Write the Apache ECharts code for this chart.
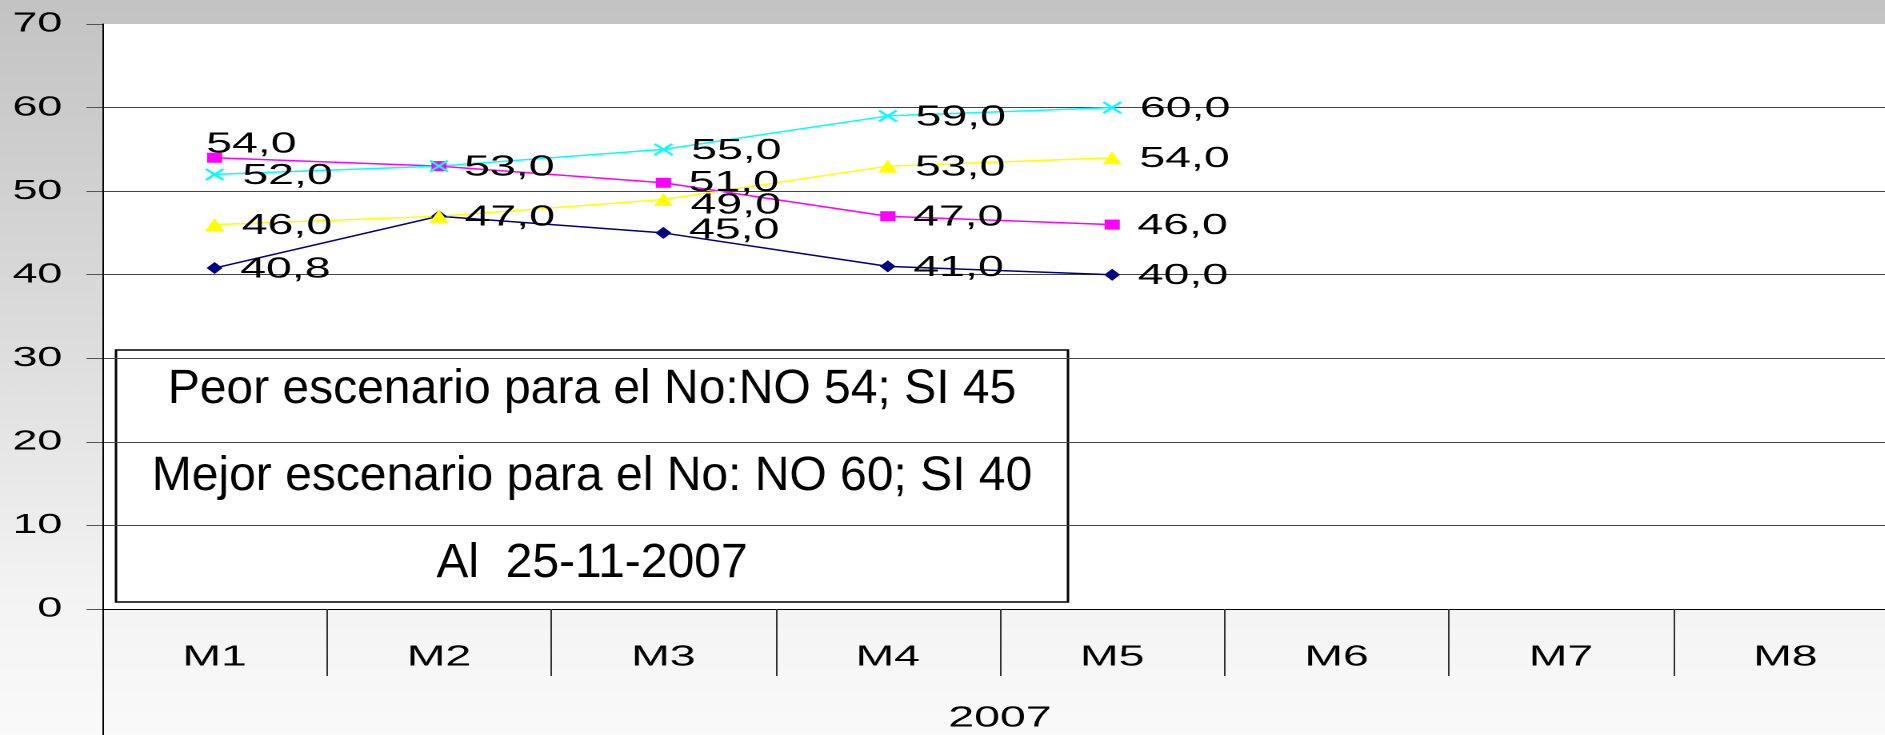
<!DOCTYPE html>
<html>
<head>
<meta charset="utf-8">
<title>Escenarios 2007</title>
<script src="https://cdn.jsdelivr.net/npm/echarts@6/dist/echarts.min.js"></script>
<style>
  html, body { margin: 0; padding: 0; overflow: hidden; background: #fafafa; }
  /* the original picture is stretched sideways, so the chart is drawn narrow and widened */
  #main { width: 1200px; height: 735px; transform: scaleX(1.6); transform-origin: 0 0; }
</style>
</head>
<body>
<div id="main"></div>
<script>
// datos
var categorias = ['M1', 'M2', 'M3', 'M4', 'M5', 'M6', 'M7', 'M8'];
var anio = ['2007'];
var serieAzul = [40.8, 47, 45, 41, 40];      // rombo azul marino
var serieMagenta = [54, 53, 51, 47, 46];     // cuadrado magenta
var serieAmarilla = [46, 47, 49, 53, 54];    // triangulo amarillo
var serieCian = [52, 53, 55, 59, 60];        // aspa cian
var notas = [
  'Peor escenario para el No:NO 54; SI 45',
  'Mejor escenario para el No: NO 60; SI 40',
  'Al  25-11-2007'
];

var fuente = 'Liberation Sans, Arial, sans-serif';

function etiqueta(p) {
  return p.value.toFixed(1).replace('.', ',');
}

// ajustes de etiquetas: indice -> label extra (null = ocultar, ya la tapa otra igual)
function conAjustes(datos, ajustes) {
  return datos.map(function (v, i) {
    if (ajustes[i] === undefined) return v;
    if (ajustes[i] === null) return { value: v, label: { show: false } };
    return { value: v, label: ajustes[i] };
  });
}

function serie(nombre, datos, color, simbolo, tam) {
  return {
    name: nombre,
    type: 'line',
    data: datos,
    symbol: simbolo,
    symbolSize: tam,
    lineStyle: { color: color, width: 1.5 },
    itemStyle: { color: color },
    label: {
      show: true,
      position: 'right',
      distance: 11,
      offset: [0, 1.5],
      color: '#000',
      fontSize: 29,
      fontFamily: fuente,
      formatter: etiqueta
    },
    z: 3
  };
}

var myChart = echarts.init(document.getElementById('main'), null, { devicePixelRatio: 2 });

var azul = serie('azul', conAjustes(serieAzul, { 2: { offset: [0, -2.5] } }),
  '#000080', 'diamond', [10, 12]);
var magenta = serie('magenta', conAjustes(serieMagenta, { 0: { offset: [-21, -13] }, 2: { offset: [0, 0] } }),
  '#FF00FF', 'rect', [9.5, 10]);
var amarilla = serie('amarilla', conAjustes(serieAmarilla, { 1: null, 2: { offset: [0, 6] } }),
  '#FFFF00', 'triangle', [12, 13]);
var cian = serie('cian', conAjustes(serieCian, { 1: null }),
  '#00FFFF', 'path://M0,0L10,10M0,10L10,0', [11, 11]);
cian.itemStyle = { color: 'transparent', borderColor: '#00FFFF', borderWidth: 1.8 };

var option = {
  animation: false,
  backgroundColor: {
    type: 'linear', x: 0, y: 0, x2: 0, y2: 1,
    colorStops: [
      { offset: 0, color: '#c3c3c3' },
      { offset: 0.45, color: '#dcdcdc' },
      { offset: 0.8, color: '#f3f3f3' },
      { offset: 1, color: '#fafafa' }
    ]
  },
  grid: {
    left: 64,
    right: 14,
    top: 24,
    bottom: 126,
    show: true,
    backgroundColor: '#fff',
    borderWidth: 0,
    outerBoundsMode: 'none'
  },
  xAxis: [
    {
      type: 'category',
      data: categorias,
      boundaryGap: true,
      axisLine: { show: true, lineStyle: { color: '#000', width: 1 } },
      axisTick: { show: true, interval: 0, length: 67, lineStyle: { color: '#333', width: 1 } },
      axisLabel: { interval: 0, margin: 34, color: '#000', fontSize: 29, fontFamily: fuente },
      splitLine: { show: false }
    },
    {
      type: 'category',
      data: anio,
      position: 'bottom',
      boundaryGap: true,
      axisLine: { show: false },
      axisTick: { show: true, length: 126, lineStyle: { color: '#000', width: 1 } },
      axisLabel: { margin: 95, color: '#000', fontSize: 29, fontFamily: fuente },
      splitLine: { show: false }
    }
  ],
  yAxis: {
    type: 'value',
    min: 0,
    max: 70,
    interval: 10,
    axisLine: { show: true, lineStyle: { color: '#000', width: 1 } },
    axisTick: { show: true, length: 10, lineStyle: { color: '#555' } },
    axisLabel: { margin: 25, color: '#000', fontSize: 28, fontFamily: fuente },
    splitLine: { show: true, showMaxLine: false, lineStyle: { color: '#444', width: 1 } }
  },
  series: [azul, magenta, amarilla, cian],
  graphic: [
    {
      type: 'group',
      z: 100,
      children: [
        {
          type: 'rect',
          shape: { x: 72.5, y: 350, width: 595, height: 252 },
          style: { fill: '#fff', stroke: '#000', lineWidth: 1.5 }
        },
        {
          type: 'text',
          x: 370,
          y: 477,
          scaleX: 1 / 1.6,
          style: {
            text: notas.join('\n'),
            font: '48px ' + fuente,
            fill: '#000',
            align: 'center',
            verticalAlign: 'middle',
            lineHeight: 87
          }
        }
      ]
    }
  ]
};

myChart.setOption(option);
</script>
</body>
</html>
